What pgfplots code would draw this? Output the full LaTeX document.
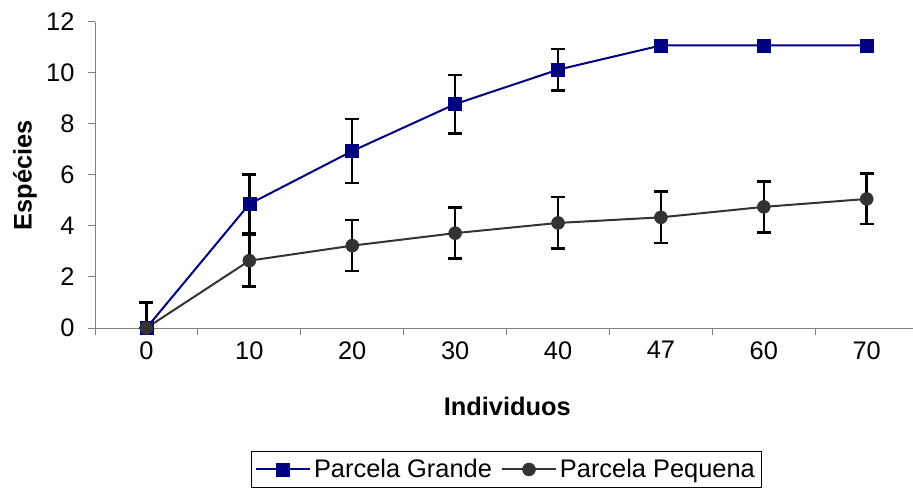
\documentclass[border=0pt]{standalone}
\usepackage{fontspec}
\setmainfont{Liberation Sans}
\usepackage{pgfplots}
\usepackage{pgfplotstable}
\pgfplotsset{compat=1.18}
\definecolor{navyblue}{HTML}{000080}
\definecolor{darkgr}{HTML}{333333}
\definecolor{axgray}{HTML}{808080}

\pgfplotstableread{
x y e
0 0 0
1 4.86 1.15
2 6.94 1.25
3 8.78 1.15
4 10.13 0.82
5 11.08 0
6 11.08 0
7 11.08 0
}\grande
\pgfplotstableread{
x y e
1 4.86 1.15
2 6.94 1.25
3 8.78 1.15
4 10.13 0.82
}\grandeerr
\pgfplotstableread{
x y ep em
0 0 1.0 0
1 2.64 1.01 1.01
2 3.23 1.0 1.0
3 3.72 1.0 1.0
4 4.12 1.01 1.01
5 4.34 1.01 1.01
6 4.75 1.0 1.0
7 5.06 0.99 0.99
}\pequena

\begin{document}
\begin{tikzpicture}
\useasboundingbox (0,0) rectangle (913bp,488bp);
\begin{axis}[
  at={(95bp,160bp)}, anchor=south west,
  scale only axis, width=818bp, height=306bp,
  xmin=-0.5, xmax=7.45, ymin=0, ymax=12,
  axis x line*=bottom, axis y line*=left,
  axis line style={-, axgray, line width=1bp},
  xtick={0,...,7},
  xticklabels={0,10,20,30,40,47,60,70},
  minor xtick={-0.5,0.5,1.5,2.5,3.5,4.5,5.5,6.5},
  ytick={0,2,...,12},
  tick align=outside,
  major tick length=7bp, minor tick length=7bp,
  major x tick style={draw=none},
  every tick/.style={axgray, line width=1bp},
  minor tick style={axgray, line width=1bp},
  tick label style={font=\fontsize{25.5}{28}\selectfont, black},
  /pgf/number format/assume math mode=true,
  xticklabel style={yshift=-3bp},
  yticklabel style={xshift=-10bp},
  xlabel={\textbf{Individuos}},
  ylabel={\textbf{Espécies}},
  label style={font=\fontsize{25.5}{28}\selectfont},
  xlabel style={at={(axis description cs:0.504,-0.255)}, anchor=center},
  ylabel style={at={(axis description cs:-0.0856,0.5)}, anchor=center},
  clip=false,
  legend columns=2,
  legend style={at={(axis description cs:0.503,-0.402)}, anchor=north,
    draw=black, line width=1bp, font=\fontsize{25.5}{28}\selectfont,
    inner xsep=4bp, inner ysep=6bp,
    nodes={inner xsep=3bp},
    /tikz/every even column/.append style={column sep=6bp}},
  legend image code/.code={\draw[mark repeat=2,mark phase=2,#1] plot coordinates {(0bp,0bp)(27bp,0bp)(54bp,0bp)};},
]
% error bars (behind)
\addplot[draw=none, mark=none, forget plot,
  error bars/.cd, y dir=both, y explicit,
  error bar style={draw=black, line width=2.5bp},
  error mark options={rotate=90, mark size=7bp, line width=2.5bp, draw=black}]
  table[x=x, y=y, y error=e] {\grandeerr};
\addplot[draw=none, mark=none, forget plot,
  error bars/.cd, y dir=both, y explicit,
  error bar style={draw=black, line width=2.5bp},
  error mark options={rotate=90, mark size=7bp, line width=2.5bp, draw=black}]
  table[x=x, y=y, y error plus=ep, y error minus=em] {\pequena};
% series
\addplot[navyblue, line width=2bp, mark=square*, mark size=6.5bp,
  mark options={fill=navyblue, draw=navyblue, line width=0.5bp}]
  table[x=x, y=y] {\grande};
\addlegendentry{Parcela Grande}
\addplot[darkgr, line width=2bp, mark=*, mark size=6.5bp,
  mark options={fill=darkgr, draw=darkgr, line width=0.5bp}]
  table[x=x, y=y] {\pequena};
\addlegendentry{Parcela Pequena}
\end{axis}
\end{tikzpicture}
\end{document}
